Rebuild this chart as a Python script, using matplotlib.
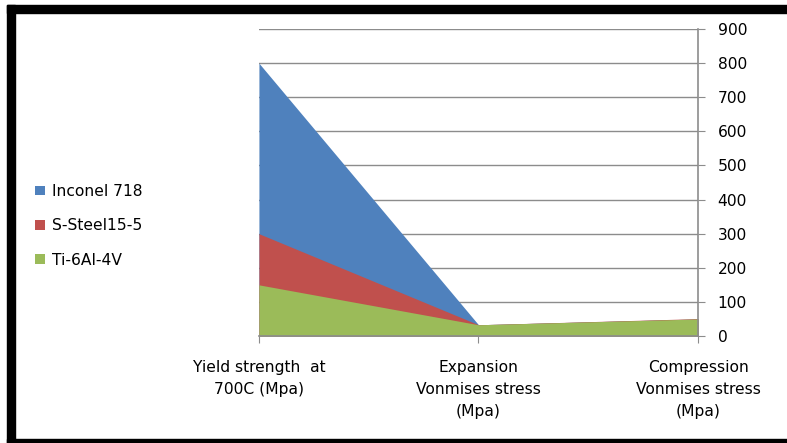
# overlapping area chart of stress values for three alloys
import matplotlib
matplotlib.use("Agg")
import matplotlib.pyplot as plt
from matplotlib.patches import Rectangle
import numpy as np

plt.rcParams['font.family'] = ['DejaVu Sans']

# set data
categories = ["Yield strength  at\n700C (Mpa)",
              "Expansion\nVonmises stress\n(Mpa)",
              "Compression\nVonmises stress\n(Mpa)"]
inconel = [800, 33, 50]
steel = [300, 33, 51]
titanium = [150, 33, 50]

labels = ["Inconel 718", "S-Steel15-5", "Ti-6Al-4V"]
colors = ["#4F81BD", "#C0504D", "#9BBB59"]

fig = plt.figure(figsize=(7.87, 4.43), dpi=100)
ax = fig.add_axes([0.329, 0.2415, 0.558, 0.693])

x = np.arange(len(categories))
handles = []
for vals, lab, col in zip([inconel, steel, titanium], labels, colors):
    h = ax.fill_between(x, 0, vals, color=col, label=lab, linewidth=0, zorder=2)
    handles.append(h)

# axis setup
ax.set_xlim(0, 2)
ax.set_ylim(0, 900)
ax.set_yticks(range(0, 901, 100))
ax.yaxis.tick_right()
ax.yaxis.grid(True, color="#8c8c8c", linewidth=1.0, zorder=1)
ax.set_xticks(x)
ax.set_xticklabels(categories, fontsize=11.2, linespacing=1.6)
ax.tick_params(axis='y', length=5, color="#8c8c8c", labelsize=11.2, pad=9)
ax.tick_params(axis='x', length=5, color="#8c8c8c", pad=12)
for s in ["top", "left"]:
    ax.spines[s].set_visible(False)
for s in ["right", "bottom"]:
    ax.spines[s].set_color("#8c8c8c")
    ax.spines[s].set_linewidth(1.2)

# legend on the left
fig.legend(handles=handles, labels=labels, loc="center left",
           bbox_to_anchor=(0.027, 0.49), frameon=False, fontsize=11.2,
           handlelength=0.6, handleheight=0.6, handletextpad=0.45,
           labelspacing=1.25)

# black frame around the chart
fig.patches.append(Rectangle((7 / 787, 0), 8 / 787, 1 - 5 / 443,
                             transform=fig.transFigure, color="black"))
fig.patches.append(Rectangle((7 / 787, 1 - 13 / 443), 1, 8 / 443,
                             transform=fig.transFigure, color="black"))
fig.patches.append(Rectangle((7 / 787, 0), 1, 4 / 443,
                             transform=fig.transFigure, color="black"))

plt.savefig("out.png", dpi=100)
